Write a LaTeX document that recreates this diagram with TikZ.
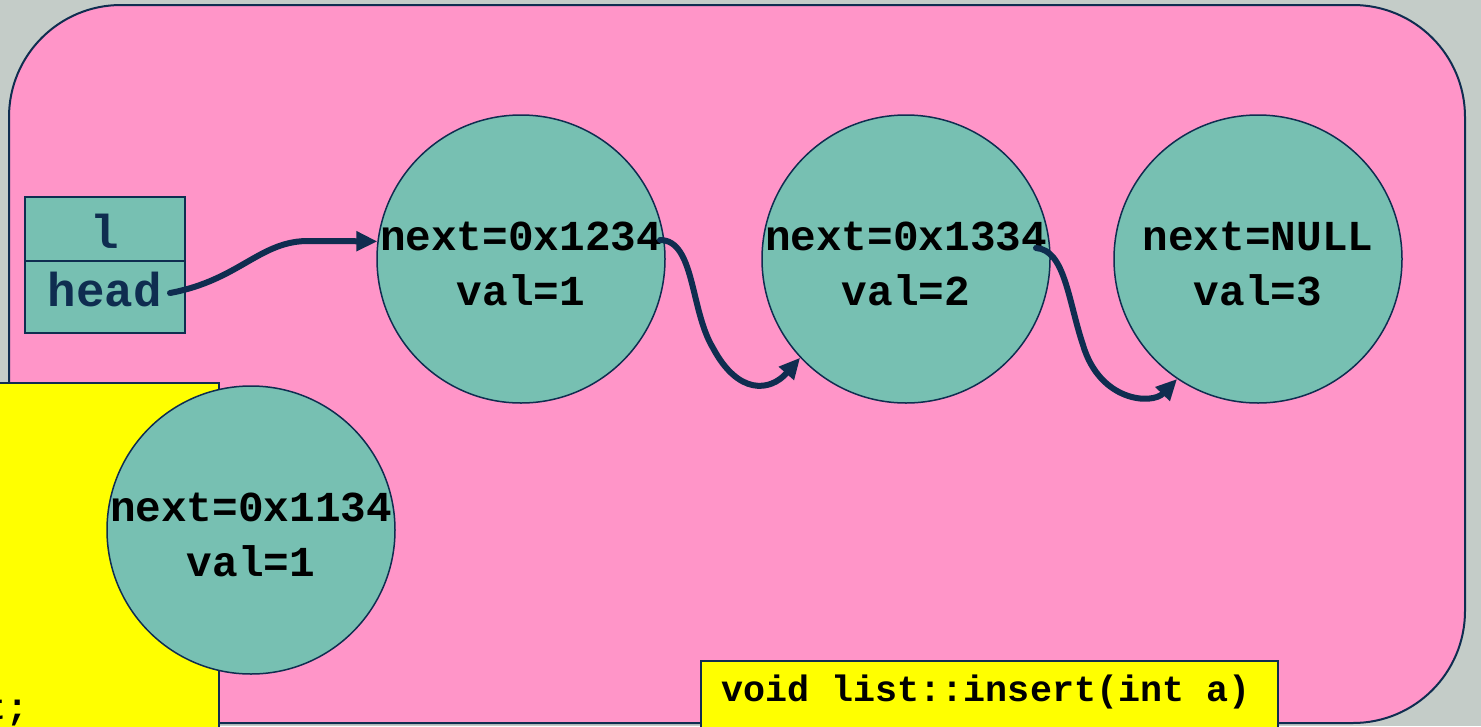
\documentclass[tikz,border=0pt]{standalone}
\usepackage{fontspec}
\setmonofont{Liberation Mono}
\usetikzlibrary{arrows.meta}
\definecolor{bggray}{HTML}{C4CCC8}
\definecolor{pinkbg}{HTML}{FF95C8}
\definecolor{nodeteal}{HTML}{77C0B2}
\definecolor{navy}{HTML}{0F2D50}
\definecolor{codeyellow}{HTML}{FFFF00}
\tikzset{
  listnode/.style={circle, draw=navy, line width=1.5pt, fill=nodeteal, minimum size=288pt, inner sep=0pt},
  nodetext/.style={align=center, text=black, inner sep=0pt, font=\ttfamily\bfseries\fontsize{42.7}{55}\selectfont},
  cell/.style={rectangle, draw=navy, line width=1.8pt, fill=nodeteal, minimum width=160pt, inner sep=0pt, text=navy, font=\ttfamily\bfseries\fontsize{47.5}{55}\selectfont},
  codebox/.style={rectangle, draw=navy, line width=1.8pt, fill=codeyellow, inner sep=0pt},
  codetext/.style={text=black, inner sep=0pt, font=\ttfamily\bfseries\fontsize{36.7}{44}\selectfont},
  link/.style={navy, line width=6pt, line cap=round, -{Triangle[length=21pt,width=19pt]}}
}
\begin{document}
\begin{tikzpicture}[x=1pt,y=-1pt]
\fill[bggray] (0,0) rectangle (1481,726);
\useasboundingbox (0,0) rectangle (1481,726);
% frame
\draw[navy, line width=2pt, fill=pinkbg, rounded corners=112pt] (9,5) rectangle (1465,723);
% left yellow code box
\node[codebox, minimum width=240pt, minimum height=370pt, anchor=north east] (codeleft) at (220,382) {};
\node[codetext, anchor=base east] (codeend) at (29,719) {t;};
% struct
\node[cell, minimum height=64pt, text height=38pt, text depth=0pt] (lcell) at (105,229) {l};
\node[cell, minimum height=72pt, text height=30pt, text depth=12pt] (hcell) at (105,297) {head};
% list nodes
\node[listnode] (c1) at (521,259) {};
\node[listnode] (c2) at (906,259) {};
\node[listnode] (c3) at (1258,259) {};
\node[listnode] (c4) at (251,530) {};
\node[nodetext] (t1) at (521,264) {next=0x1234\\val=1};
\node[nodetext] (t2) at (906,264) {next=0x1334\\val=2};
\node[nodetext] (t3) at (1258,264) {next=NULL\\val=3};
\node[nodetext] (t4) at (251,535) {next=0x1134\\val=1};
% bottom signature box
\node[codebox, minimum width=577pt, minimum height=90pt, anchor=north west] (sigbox) at (700,660) {};
\node[codetext] (sig) at (986,692) {void list::insert(int a)};
% links
\coordinate (h0) at (170,293);
\coordinate (a2s) at (660,240);
\coordinate (a3s) at (1036,248);
\draw[link] (h0) .. controls (240,280) and (260,240) .. (310,241) -- (c1.173);
\draw[link] (a2s) .. controls (695,240) and (690,310) .. (713,348) .. controls (738,395) and (770,392) .. (c2.223);
\draw[link] (a3s) .. controls (1065,250) and (1068,300) .. (1083,345) .. controls (1100,402) and (1152,405) .. (c3.236);
\end{tikzpicture}
\end{document}
